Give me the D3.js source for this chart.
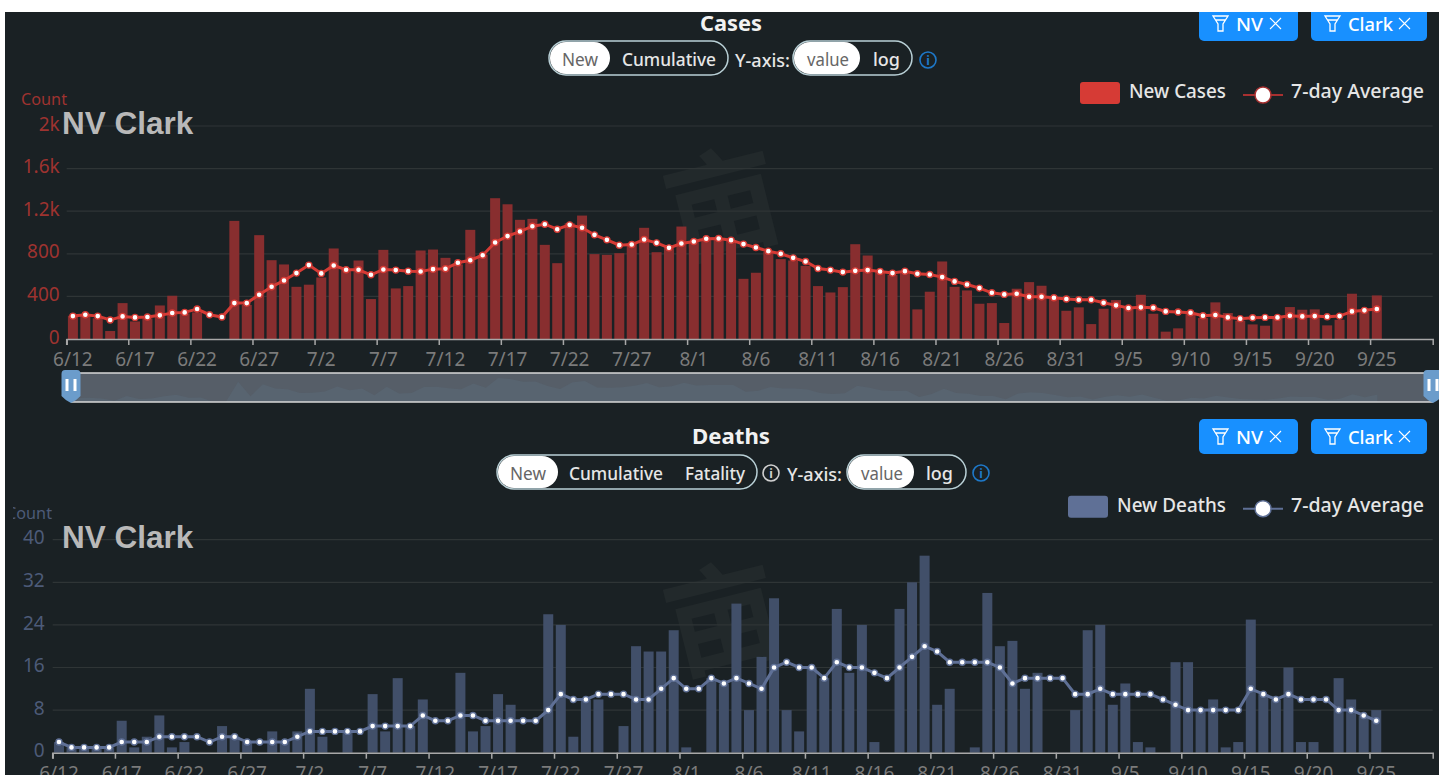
<!DOCTYPE html>
<html>
<head>
<meta charset="utf-8">
<script src="https://cdn.jsdelivr.net/npm/d3@7"></script>
<style>
    html, body { margin: 0; padding: 0; background: #fff; overflow: hidden; }
    text { font-family: "Noto Sans", sans-serif; }
</style>
</head>
<body>
<div id="chart"></div>
<script>
// One label per day, the axis shows every fifth one
const dayLabels = [
    '6/12','6/13','6/14','6/15','6/16','6/17','6/18','6/19','6/20','6/21','6/22','6/23','6/24','6/25','6/26','6/27','6/28','6/29','6/30',
    '7/1','7/2','7/3','7/4','7/5','7/6','7/7','7/8','7/9','7/10','7/11','7/12','7/13','7/14','7/15','7/16','7/17','7/18','7/19','7/20','7/21','7/22','7/23','7/24','7/25','7/26','7/27','7/28','7/29','7/30','7/31',
    '8/1','8/2','8/3','8/4','8/5','8/6','8/7','8/8','8/9','8/10','8/11','8/12','8/13','8/14','8/15','8/16','8/17','8/18','8/19','8/20','8/21','8/22','8/23','8/24','8/25','8/26','8/27','8/28','8/29','8/30','8/31',
    '9/1','9/2','9/3','9/4','9/5','9/6','9/7','9/8','9/9','9/10','9/11','9/12','9/13','9/14','9/15','9/16','9/17','9/18','9/19','9/20','9/21','9/22','9/23','9/24','9/25','9/26','9/27','9/28','9/29'
];

const newCases = [
    218,230,195,75,337,165,195,315,406,240,250,0,0,1109,320,975,740,700,490,510,578,850,650,737,375,837,
    475,497,831,840,762,700,1025,790,1322,1265,1119,1128,884,712,1087,1159,797,790,806,900,1044,815,870,1056,915,930,930,930,
    565,622,822,750,737,687,497,437,487,890,784,634,603,619,278,444,728,490,456,331,337,150,472,534,500,384,
    265,297,140,284,365,290,415,237,69,100,237,197,344,244,172,137,125,197,300,275,278,128,181,425,260,409
];
const avgCases = [
    215,228,215,178,212,203,206,222,244,250,281,228,206,337,337,416,490,550,619,694,616,690,650,650,603,653,
    647,637,634,656,659,716,740,787,906,966,1009,1059,1078,1031,1072,1044,978,931,881,887,934,903,856,897,916,941,944,928,
    891,859,825,800,762,728,662,647,628,640,647,634,619,637,612,606,581,541,512,478,434,419,425,397,397,387,
    375,369,369,341,316,291,297,294,259,253,247,219,225,203,191,200,203,203,219,212,215,209,215,259,269,281
];
const newDeaths = [
    2,1,1,1,1,6,1,3,7,1,2,0,0,5,3,2,0,4,2,4,12,3,0,4,0,11,4,
    14,5,10,0,0,15,4,5,11,9,0,0,26,24,3,10,10,0,5,20,19,19,23,1,0,14,13,
    28,8,18,29,8,4,16,14,27,15,24,2,0,27,32,37,9,12,0,1,30,20,21,12,15,0,0,
    8,23,24,9,13,2,1,0,17,17,8,10,1,2,25,11,10,16,2,2,0,14,10,7,8
];
const avgDeaths = [
    2,1,1,1,1,2,2,2,3,3,3,3,2,3,3,2,2,2,2,3,4,4,4,4,4,5,5,
    5,5,7,6,6,7,7,6,6,6,6,6,8,11,10,10,11,11,11,10,10,12,14,12,12,14,13,
    14,13,12,16,17,16,16,14,17,16,16,15,14,16,18,20,19,17,17,17,17,16,13,14,14,14,14,
    11,11,12,11,11,11,11,10,9,8,8,8,8,8,12,11,10,11,10,10,10,8,8,7,6
];

const casesTicks = [0, 400, 800, 1200, 1600, 2000];
const deathsTicks = [0, 8, 16, 24, 32, 40];

const width = 1439, height = 775;
const bg = '#1a2124';

const svg = d3.select('#chart')
    .append('svg')
    .attr('width', width)
    .attr('height', height)
    .style('display', 'block');

svg.append('rect')
    .attr('width', width)
    .attr('height', height)
    .attr('fill', bg);

const defs = svg.append('defs');
defs.append('clipPath')
    .attr('id', 'count-clip')
    .append('rect')
    .attr('x', 13).attr('y', 0).attr('width', 100).attr('height', height);

// Text squeezed to the measured width, the original font is narrower than ours
function label(g, str, x, y, opts) {
    const t = g.append('text')
        .attr('x', x)
        .attr('y', y)
        .attr('dominant-baseline', 'central')
        .attr('fill', opts.color || '#e6e6e6')
        .style('font-size', (opts.size || 18) + 'px')
        .style('font-weight', opts.weight || 400)
        .text(str);
    if (opts.len) {
        t.attr('textLength', opts.len).attr('lengthAdjust', 'spacingAndGlyphs');
    }
    return t;
}

function pill(g, x, y, w, knobW) {
    g.append('rect')
        .attr('x', x).attr('y', y).attr('width', w).attr('height', 34).attr('rx', 17)
        .attr('fill', 'none')
        .attr('stroke', '#b9d0d6')
        .attr('stroke-width', 1.5);
    g.append('rect')
        .attr('x', x + 1).attr('y', y + 1).attr('width', knobW).attr('height', 32).attr('rx', 16)
        .attr('fill', '#fff');
}

function infoIcon(g, x, y, color) {
    g.append('circle')
        .attr('cx', x).attr('cy', y).attr('r', 8)
        .attr('fill', 'none')
        .attr('stroke', color)
        .attr('stroke-width', 1.6);
    g.append('text')
        .attr('x', x).attr('y', y)
        .attr('text-anchor', 'middle')
        .attr('dominant-baseline', 'central')
        .attr('fill', color)
        .style('font-size', '12px')
        .style('font-weight', 700)
        .text('i');
}

function filterTag(g, str, x, w, y, textLen) {
    g.append('rect')
        .attr('x', x).attr('y', y).attr('width', w).attr('height', 35).attr('rx', 5)
        .attr('fill', '#1890ff');
    // Funnel icon
    g.append('path')
        .attr('transform', `translate(${x + 14},${y + 10})`)
        .attr('d', 'M0,0H15L10,8V15H5V8Z M2.5,4H12.5')
        .attr('fill', 'none')
        .attr('stroke', '#fff')
        .attr('stroke-width', 1.3);
    label(g, str, x + 37, y + 17, {color: '#fff', size: 18.5, len: textLen, weight: 500});
    // Close icon
    g.append('path')
        .attr('transform', `translate(${x + w - 28},${y + 12})`)
        .attr('d', 'M0,0L11,11M11,0L0,11')
        .attr('fill', 'none')
        .attr('stroke', '#fff')
        .attr('stroke-width', 1.1);
}

function drawPanel(p) {
    const g = svg.append('g').attr('class', p.name);

    const xScale = d3.scaleBand()
        .domain(dayLabels)
        .range([p.left, p.right]);
    const yScale = d3.scaleLinear()
        .domain([0, d3.max(p.ticks)])
        .range([p.bottom, p.top]);
    const bw = xScale.bandwidth();
    const center = d => xScale(d) + bw / 2;

    // Watermark sits under everything
    g.append('text')
        .attr('transform', `translate(${p.markX},${p.markY}) rotate(-14)`)
        .attr('text-anchor', 'middle')
        .attr('fill', '#22292b')
        .style('font-family', '"Noto Sans CJK SC"')
        .style('font-size', '116px')
        .style('font-weight', 700)
        .text('亩');

    // Gridlines
    g.selectAll('.grid')
        .data(p.ticks.slice(1))
        .enter()
        .append('line')
        .attr('class', 'grid')
        .attr('x1', p.left)
        .attr('x2', p.right)
        .attr('y1', d => yScale(d))
        .attr('y2', d => yScale(d))
        .attr('stroke', '#2f3536')
        .attr('stroke-width', 1.2);

    // Y axis
    const yAxis = d3.axisLeft(yScale)
        .tickValues(p.ticks)
        .tickSize(0)
        .tickPadding(p.yPad)
        .tickFormat(d3.format('~s'));
    const yG = g.append('g')
        .attr('transform', `translate(${p.left},0)`)
        .call(yAxis);
    yG.select('.domain').remove();
    yG.selectAll('text')
        .attr('fill', p.tickColor)
        .attr('dy', '0.22em')
        .style('font-size', '19px');

    // Bars
    g.selectAll('.bar')
        .data(p.bars)
        .enter()
        .append('rect')
        .attr('class', 'bar')
        .attr('x', (d, i) => center(dayLabels[i]) - 5)
        .attr('width', 10)
        .attr('y', d => yScale(d))
        .attr('height', d => p.bottom - yScale(d))
        .attr('fill', p.barColor);

    // X axis, ticks sit on the band edge and labels on the band centre
    const xAxis = d3.axisBottom(xScale)
        .tickValues(dayLabels.filter((d, i) => i % 5 === 0))
        .tickSize(6)
        .tickSizeOuter(6)
        .tickPadding(8);
    const xG = g.append('g')
        .attr('transform', `translate(0,${p.bottom})`)
        .call(xAxis);
    xG.select('.domain').attr('stroke', '#a8a8a8').attr('stroke-width', 1.5);
    xG.selectAll('.tick line')
        .attr('x1', -bw / 2)
        .attr('x2', -bw / 2)
        .attr('stroke', '#a8a8a8')
        .attr('stroke-width', 1.5);
    xG.selectAll('.tick text')
        .attr('fill', '#7b7b7b')
        .style('font-size', '19px');

    // 7-day average
    const line = d3.line()
        .x((d, i) => center(dayLabels[i]))
        .y(d => yScale(d));
    g.append('path')
        .datum(p.avg)
        .attr('d', line)
        .attr('fill', 'none')
        .attr('stroke', p.lineColor)
        .attr('stroke-width', 3);
    g.selectAll('.dot')
        .data(p.avg)
        .enter()
        .append('circle')
        .attr('class', 'dot')
        .attr('cx', (d, i) => center(dayLabels[i]))
        .attr('cy', d => yScale(d))
        .attr('r', 3)
        .attr('fill', '#fff')
        .attr('stroke', p.dotStroke)
        .attr('stroke-width', 1.4);

    // Axis name and region name
    label(g, 'Count', p.countX, p.top - 27, {color: p.tickColor, size: 16, len: 46})
        .attr('clip-path', 'url(#count-clip)');
    g.append('text')
        .attr('x', 62)
        .attr('y', p.top + 8)
        .attr('fill', '#b9b9b9')
        .style('font-family', '"Liberation Sans", Arial, sans-serif')
        .style('font-size', '31.5px')
        .style('font-weight', 700)
        .text('NV Clark');

    // Legend
    const ly = p.top - 33;
    g.append('rect')
        .attr('x', p.legendX).attr('y', ly - 11).attr('width', 40).attr('height', 22).attr('rx', 3)
        .attr('fill', p.lineColor);
    label(g, p.legendName, p.legendX + 49, ly - 2, {size: 19, len: 1226 - p.legendX - 49, weight: 500});
    g.append('line')
        .attr('x1', 1243).attr('x2', 1283).attr('y1', ly + 2).attr('y2', ly + 2)
        .attr('stroke', p.legendLine)
        .attr('stroke-width', 2);
    g.append('circle')
        .attr('cx', 1263).attr('cy', ly + 2).attr('r', 8)
        .attr('fill', '#fff')
        .attr('stroke', p.legendLine)
        .attr('stroke-width', 1.5);
    label(g, '7-day Average', 1291, ly - 2, {size: 19, len: 133, weight: 500});

    // Title and toggles
    label(g, p.title, 731 - p.titleLen / 2, p.titleY, {color: '#f2f2f2', size: 21, weight: 700, len: p.titleLen});

    filterTag(g, 'NV', 1199, 99, p.titleY - 17, 27);
    filterTag(g, 'Clark', 1311, 116, p.titleY - 17, 45);
    return g;
}

const casesPanel = drawPanel({
    name: 'cases', title: 'Cases', titleY: 23, titleLen: 62,
    left: 66.7, right: 1432.7, top: 126, bottom: 339,
    bars: newCases, avg: avgCases, ticks: casesTicks,
    barColor: '#882e2f', lineColor: '#d63b35', dotStroke: '#d63b35', legendLine: '#a83030', tickColor: '#9e3330',
    yPad: 7, countX: 21, legendX: 1080, legendName: 'New Cases',
    markX: 733, markY: 245
});

const deathsPanel = drawPanel({
    name: 'deaths', title: 'Deaths', titleY: 436, titleLen: 78,
    left: 52.7, right: 1432.7, top: 539.7, bottom: 752.7,
    bars: newDeaths, avg: avgDeaths, ticks: deathsTicks,
    barColor: '#414f69', lineColor: '#5f7096', dotStroke: '#5f7096', legendLine: '#5f7096', tickColor: '#4d5b78',
    yPad: 8, countX: 6, legendX: 1068, legendName: 'New Deaths',
    markX: 733, markY: 659
});

// Toggles of the cases panel
pill(casesPanel, 549, 41, 179, 60);
label(casesPanel, 'New', 562, 59, {color: '#666', size: 18, len: 36});
label(casesPanel, 'Cumulative', 622, 59, {size: 18, len: 94, weight: 500});
label(casesPanel, 'Y-axis:', 735, 60, {size: 18, len: 55, weight: 500});
pill(casesPanel, 793, 41, 119, 66);
label(casesPanel, 'value', 807, 59, {color: '#666', size: 18, len: 42});
label(casesPanel, 'log', 873, 59, {size: 18, len: 27, weight: 500});
infoIcon(casesPanel, 928, 60, '#1e78c8');

// Toggles of the deaths panel
pill(deathsPanel, 497, 455, 260, 60);
label(deathsPanel, 'New', 510, 473, {color: '#666', size: 18, len: 36});
label(deathsPanel, 'Cumulative', 569, 473, {size: 18, len: 94, weight: 500});
label(deathsPanel, 'Fatality', 685, 473, {size: 18, len: 60, weight: 500});
infoIcon(deathsPanel, 771, 473, '#d0d0d0');
label(deathsPanel, 'Y-axis:', 787, 474, {size: 18, len: 55, weight: 500});
pill(deathsPanel, 847, 455, 119, 66);
label(deathsPanel, 'value', 861, 473, {color: '#666', size: 18, len: 42});
label(deathsPanel, 'log', 926, 473, {size: 18, len: 27, weight: 500});
infoIcon(deathsPanel, 981, 473, '#1e78c8');

// Range slider under the cases chart with its small preview of the series
const sliderG = svg.append('g').attr('class', 'slider');
sliderG.append('rect')
    .attr('x', 71).attr('y', 373).attr('width', 1362).attr('height', 29)
    .attr('fill', '#565e68');

const sliderX = d3.scaleBand().domain(dayLabels).range([71, 1433]);
const sliderY = d3.scaleLinear().domain([0, d3.max(newCases)]).range([402, 378]);
sliderG.append('path')
    .datum(newCases)
    .attr('d', d3.area()
        .x((d, i) => sliderX(dayLabels[i]) + sliderX.bandwidth() / 2)
        .y0(402)
        .y1(d => sliderY(d)))
    .attr('fill', '#5a6977')
    .attr('opacity', 0.5);

sliderG.selectAll('.edge')
    .data([373, 402])
    .enter()
    .append('line')
    .attr('class', 'edge')
    .attr('x1', 71).attr('x2', 1433)
    .attr('y1', d => d).attr('y2', d => d)
    .attr('stroke', '#d8d8d8')
    .attr('stroke-width', 1.5);

[71, 1433].forEach(cx => {
    sliderG.append('path')
        .attr('transform', `translate(${cx},370)`)
        .attr('d', 'M-6,0H6Q9.5,0 9.5,4V26Q5,31 0,33Q-5,31 -9.5,26V4Q-9.5,0 -6,0Z')
        .attr('fill', '#6b9ccb');
    [-4, 4].forEach(dx => {
        sliderG.append('rect')
            .attr('x', cx + dx - 1.5).attr('y', 379).attr('width', 3).attr('height', 12)
            .attr('fill', '#fff');
    });
});

// White page showing around the screenshot
svg.append('rect').attr('width', width).attr('height', 12).attr('fill', '#fff');
svg.append('rect').attr('width', 5).attr('height', height).attr('fill', '#fff');
</script>
</body>
</html>
